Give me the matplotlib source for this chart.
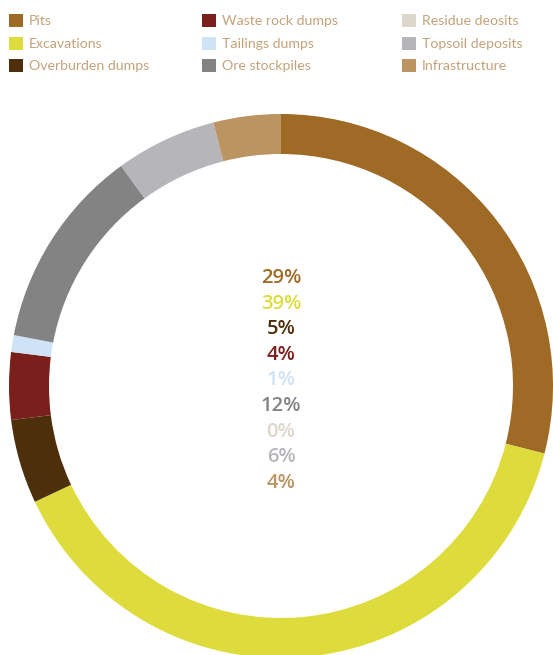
import matplotlib.pyplot as plt
from matplotlib.patches import Rectangle

categories = ['Pits', 'Excavations', 'Overburden dumps', 'Waste rock dumps',
              'Tailings dumps', 'Ore stockpiles', 'Residue deosits',
              'Topsoil deposits', 'Infrastructure']
shares = [29, 39, 5, 4, 1, 12, 0, 6, 4]
colors = ['#9e6a25', '#dedb3c', '#4d300b', '#7a1f1b', '#cfe3f7',
          '#838383', '#ddd6cb', '#b5b5ba', '#bb9462']

W, H = 553, 655
fig = plt.figure(figsize=(W / 100, H / 100), dpi=100)
ax = fig.add_axes([0, 0, 1, 1])

ax.pie(shares, colors=colors, startangle=90, counterclock=False,
       center=(281, -386), radius=272,
       wedgeprops=dict(width=40, linewidth=0))
ax.set_xlim(0, W)
ax.set_ylim(-H, 0)
ax.set_aspect('equal')
ax.axis('off')

# legend, filled column by column
col_x = [9, 202, 402]
row_y = [20, 43, 65]
for k, name in enumerate(categories):
    cx = col_x[k // 3]
    cy = row_y[k % 3]
    ax.add_patch(Rectangle((cx, -cy - 7), 13.5, 13.5, color=colors[k], lw=0))
    ax.text(cx + 20, -cy - 1, name, fontsize=10.2, color='#c4a27a',
            family='Lato', va='center', ha='left')

# centre percentages
for i, v in enumerate(shares):
    ax.text(281, -278 - i * 25.6, f'{v}%', fontsize=14.5, color=colors[i],
            family='Open Sans', weight='semibold', ha='center', va='center')

fig.savefig('out.png', dpi=100)
